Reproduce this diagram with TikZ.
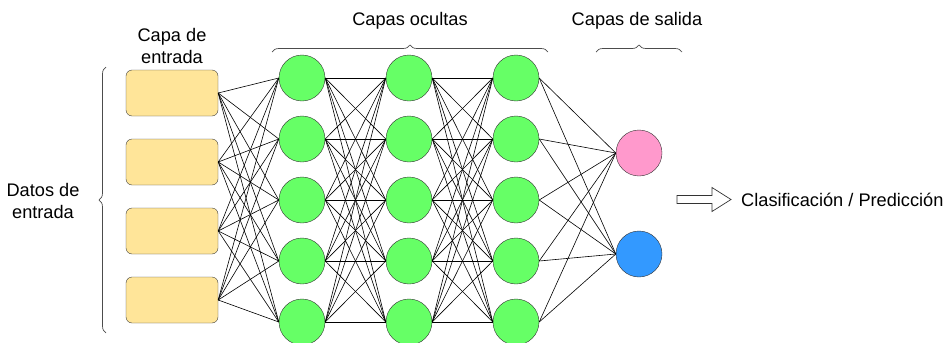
\documentclass[tikz,border=0pt]{standalone}
\usepackage{fontspec}
\setmainfont{Liberation Sans}
\usetikzlibrary{decorations.pathreplacing}
\definecolor{amarillo}{HTML}{FFE599}
\definecolor{verde}{HTML}{66FF66}
\definecolor{rosa}{HTML}{FF99CC}
\definecolor{azul}{HTML}{3399FF}

\begin{document}
\begin{tikzpicture}[x=1pt, y=-1pt, font=\fontsize{18.2}{22}\selectfont,
  entrada/.style={draw=black!75, fill=amarillo, rounded corners=6pt, minimum width=92pt, minimum height=46pt, inner sep=0pt},
  neurona/.style={circle, draw=black!80, minimum size=46pt, inner sep=0pt},
  conex/.style={line width=0.6pt},
  llave/.style={decorate, decoration={brace, amplitude=7pt}, draw=black!70, line width=0.7pt},
  label/.style={align=center, inner sep=0pt}]
\useasboundingbox (0,0) rectangle (946,343);

% capa de entrada
\node[entrada] (e1) at (172,93) {};
\node[entrada] (e2) at (172,162) {};
\node[entrada] (e3) at (172,231) {};
\node[entrada] (e4) at (172,300) {};

% capas ocultas
\foreach \c/\x in {1/302,2/409,3/516}
  \foreach \f/\y in {1/78,2/139,3/200,4/261,5/322}
    \node[neurona, fill=verde] (h\c\f) at (\x,\y) {};

% capa de salida
\node[neurona, fill=rosa] (s1) at (639,153) {};
\node[neurona, fill=azul] (s2) at (639,254) {};

% conexiones
\foreach \i in {1,...,4}
  \foreach \j in {1,...,5}
    \draw[conex] (e\i.east) -- (h1\j.west);
\foreach \i in {1,...,5}
  \foreach \j in {1,...,5}
    \draw[conex] (h1\i.east) -- (h2\j.west)
                 (h2\i.east) -- (h3\j.west);
\foreach \i in {1,...,5}
  \foreach \j in {1,2}
    \draw[conex] (h3\i.east) -- (s\j.west);

% llaves y textos
\coordinate (lla) at (106,333);
\coordinate (llb) at (106,67);
\draw[llave] (lla) -- (llb);
\node[label] (datos) at (43,201) {Datos de\\entrada};
\node[label] (tentrada) at (172,46) {Capa de\\entrada};

\coordinate (oca) at (272,52);
\coordinate (ocb) at (548,52);
\draw[llave] (oca) -- (ocb);
\node[label] (tocultas) at (410,21) {Capas ocultas};

\coordinate (saa) at (596,52);
\coordinate (sab) at (682,52);
\draw[llave] (saa) -- (sab);
\node[label] (tsalida) at (637,21) {Capas de salida};

% flecha hacia el resultado
\draw[line width=0.7pt, draw=black!80, fill=white]
  (677,195.5) -- (712,195.5) -- (712,187.5) -- (731,199.5) -- (712,211.5)
  -- (712,203.5) -- (677,203.5) -- cycle;
\node[label, anchor=west] (res) at (741,200) {Clasificación / Predicción};
\end{tikzpicture}
\end{document}
